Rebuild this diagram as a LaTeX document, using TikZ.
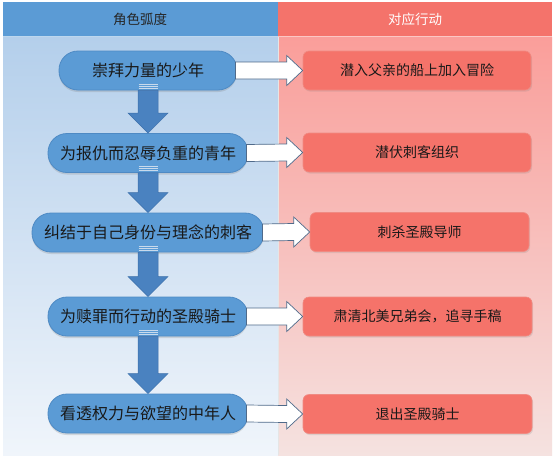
\documentclass[tikz,border=0pt]{standalone}
\usepackage{fontspec}
\setmainfont{Noto Sans CJK SC}
\usetikzlibrary{calc,shadows}
\definecolor{hdblue}{HTML}{5B9BD5}
\definecolor{hdred}{HTML}{F4736B}
\definecolor{bgbluetop}{HTML}{B4CFEB}
\definecolor{bgbluebot}{HTML}{F0F5FB}
\definecolor{bgredtop}{HTML}{FA9E9A}
\definecolor{bgredbot}{HTML}{F5E2E0}
\definecolor{pillfill}{HTML}{5B9BD5}
\definecolor{pillline}{HTML}{4E8AC4}
\definecolor{boxfill}{HTML}{F5736A}
\definecolor{boxline}{HTML}{F08A82}
\definecolor{downfill}{HTML}{4A82C0}
\definecolor{downline}{HTML}{3D70AA}
\definecolor{whline}{HTML}{4F6A8A}
\tikzset{
  pill/.style={draw=pillline, line width=0.8pt, fill=pillfill, rounded corners=19pt,
    minimum height=39pt, minimum width=178pt, inner xsep=12pt, text=black!90,
    font=\fontsize{16}{16}\selectfont,
    drop shadow={shadow xshift=0pt, shadow yshift=-2pt, opacity=0.25}},
  actbox/.style={draw=boxline, line width=0.6pt, fill=boxfill, rounded corners=6pt,
    minimum height=39pt, text=black!90, font=\fontsize{14}{14}\selectfont,
    drop shadow={shadow xshift=1pt, shadow yshift=-1.5pt, opacity=0.2}},
  hdtext/.style={font=\fontsize{13.5}{14}\selectfont},
  downarr/.style={fill=downfill, draw=downline, line width=0.5pt},
  rightarr/.style={fill=white, draw=whline, line width=0.7pt, line join=miter},
}
\newcommand{\DownArr}[2]{%
  \path[downarr] ($(#1.south)+(-10,0)$) -- ($(#2.north)+(-10,-20)$)
    -- ($(#2.north)+(-20,-20)$) -- (#2.north) -- ($(#2.north)+(20,-20)$)
    -- ($(#2.north)+(10,-20)$) -- ($(#1.south)+(10,0)$) -- cycle;
  \foreach \k in {2.5,4.5,6.5}{
    \draw[white!70!downfill, line width=0.6pt] ($(#1.south)+(-9.5,-\k)$) -- ($(#1.south)+(9.5,-\k)$);}
}
\newcommand{\RightArr}[2]{%
  \path[rightarr] ($(#1.east)+(-2,-8.5)$) -- ($(#2.west)+(-16,-8.5)$)
    -- ($(#2.west)+(-16,-15)$) -- (#2.west) -- ($(#2.west)+(-16,15)$)
    -- ($(#2.west)+(-16,8.5)$) -- ($(#1.east)+(-2,8.5)$) -- cycle;
}
\begin{document}
\begin{tikzpicture}[x=1pt,y=-1pt]
\useasboundingbox (0,0) rectangle (554,458);
\fill[white] (0,0) rectangle (554,458);
% backgrounds
\shade[top color=bgbluetop, bottom color=bgbluebot] (3,37) rectangle (278,455);
\shade[top color=bgredtop, bottom color=bgredbot] (278,37) rectangle (552,455);
\fill[hdblue] (3,2) rectangle (278,36);
\fill[hdred] (278,2) rectangle (552,36);
\draw[white!60!hdblue, line width=0.8pt] (3,36.5) -- (278,36.5);
\draw[white!60!hdred, line width=0.8pt] (278,36.5) -- (552,36.5);
\draw[white!80!gray, line width=0.6pt] (278,37) -- (278,455);
\node[hdtext, text=black!85] (h1) at (140,19) {角色弧度};
\node[hdtext, text=white] (h2) at (415,19) {对应行动};
% pills
\node[pill] (p1) at (148,70.5) {崇拜力量的少年};
\node[pill] (p2) at (148,153) {为报仇而忍辱负重的青年};
\node[pill] (p3) at (148,232.5) {纠结于自己身份与理念的刺客};
\node[pill] (p4) at (148,316.5) {为赎罪而行动的圣殿骑士};
\node[pill] (p5) at (148,413.5) {看透权力与欲望的中年人};
% action boxes
\node[actbox, minimum width=228pt] (a1) at (417,70.5) {潜入父亲的船上加入冒险};
\node[actbox, minimum width=228pt] (a2) at (417,152.5) {潜伏刺客组织};
\node[actbox, minimum width=219pt] (a3) at (419.5,232) {刺杀圣殿导师};
\node[actbox, minimum width=229pt] (a4) at (417.5,316.5) {肃清北美兄弟会，追寻手稿};
\node[actbox, minimum width=229pt] (a5) at (417.5,414) {退出圣殿骑士};
% down arrows
\DownArr{p1}{p2}
\DownArr{p2}{p3}
\DownArr{p3}{p4}
\DownArr{p4}{p5}
% right arrows
\RightArr{p1}{a1}
\RightArr{p2}{a2}
\RightArr{p3}{a3}
\RightArr{p4}{a4}
\RightArr{p5}{a5}
\end{tikzpicture}
\end{document}
